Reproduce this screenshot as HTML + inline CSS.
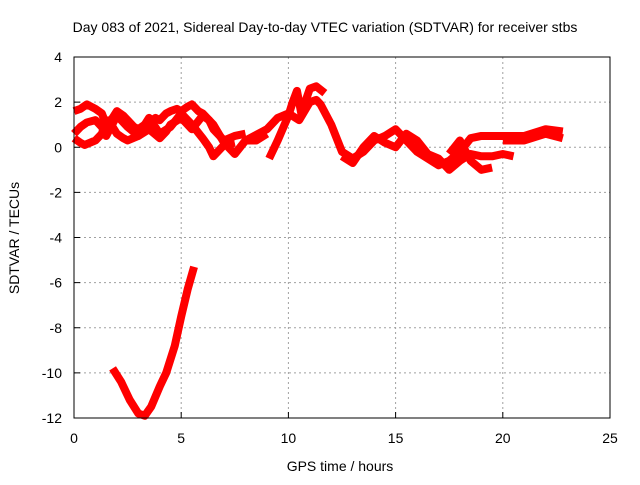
<!DOCTYPE html>
<html><head><meta charset="utf-8"><style>
body{margin:0;background:#fff}
svg text{font-family:"Liberation Sans",sans-serif;font-size:14px;fill:#000}
</style></head><body>
<svg id="c" width="640" height="480" xmlns="http://www.w3.org/2000/svg">
<text x="325" y="32" text-anchor="middle">Day 083 of 2021, Sidereal Day-to-day VTEC variation (SDTVAR) for receiver stbs</text>
<text x="340" y="471" text-anchor="middle">GPS time / hours</text>
<text transform="translate(19,238) rotate(-90)" text-anchor="middle">SDTVAR / TECUs</text>
<g id="grid"></g><g id="ticks"></g><g id="series"></g>
<rect x="74" y="57" width="536" height="361" fill="none" stroke="#000"/>
</svg>
<script>
const xTicks=[0,5,10,15,20,25];
const yTicks=[4,2,0,-2,-4,-6,-8,-10,-12];
const s1h=[0,0.3,0.6,1,1.3,1.5,1.8,2,2.3,2.5,2.8,3,3.3,3.5,3.8,4,4.3,4.5,4.8,5,5.3,5.5,5.8,6,6.3,6.5,7,7.5,8];
const s1v=[1.6,1.7,1.9,1.7,1.5,1.0,1.3,1.6,1.4,1.2,0.9,0.8,1.0,1.1,1.3,1.2,1.5,1.6,1.7,1.6,1.8,1.9,1.6,1.5,1.2,0.8,0.3,0.5,0.6];
const s2h=[0,0.3,0.5,1,1.3,1.5,1.8,2,2.3,2.5,3,3.5,4,4.3,4.5,5,5.5,6,6.3,6.5,7,7.5,8,8.5,9];
const s2v=[0.4,0.2,0.1,0.3,0.6,1.2,0.9,0.6,0.4,0.3,0.5,0.8,0.4,0.7,1.0,1.3,0.8,1.4,1.2,1.0,0.2,-0.3,0.3,0.3,0.6];
const s3h=[0,0.3,0.6,1,1.3,1.5,2,2.5,3,3.3,3.5,4,4.5,5,5.5,6,6.3,6.5,7,7.5];
const s3v=[0.6,0.9,1.1,1.2,0.9,0.5,1.4,0.9,0.5,1.0,1.3,0.6,0.9,1.5,1.0,0.4,0.0,-0.4,0.1,0.2];
const s4h=[9.1,9.5,10,10.2,10.4,10.6,11,11.3,11.7];
const s4v=[-0.5,0.3,1.4,2.0,2.5,1.5,2.6,2.7,2.4];
const s5h=[8,9,9.5,10,10.5,11,11.3,11.5,12,12.5,13,13.5,14,14.5,15,15.5,16,16.5,17,17.5,18,18.5,19,20,21,22,22.8];
const s5v=[0.3,0.8,1.3,1.5,1.2,2.0,2.1,1.9,1.0,-0.2,-0.5,-0.2,0.3,0.5,0.8,0.3,-0.2,-0.5,-0.8,-0.6,-0.2,0.4,0.5,0.5,0.5,0.8,0.7];
const s6h=[12.5,13,13.5,14,14.5,15,15.5,16,16.5,17,17.5,18,18.5,19,19.5,20,20.5];
const s6v=[-0.4,-0.7,0,0.5,0.2,0,0.6,0.3,-0.3,-0.5,-1.0,-0.6,-0.3,-0.4,-0.4,-0.3,-0.4];
const s7h=[17.5,18,18.5,19,19.5];
const s7v=[-0.3,0.3,-0.6,-1.0,-0.9];
const s8h=[20,21,22,22.8];
const s8v=[0.3,0.3,0.6,0.4];
const s9h=[1.8,2.2,2.6,3,3.3,3.6,4,4.3,4.7,5,5.3,5.6];
const s9v=[-9.8,-10.4,-11.2,-11.8,-11.9,-11.5,-10.6,-10,-8.8,-7.5,-6.3,-5.3];
const X=h=>74+h/25*536, Y=v=>57+(4-v)/16*361;
const NS="http://www.w3.org/2000/svg";
const grid=document.getElementById('grid'),ticks=document.getElementById('ticks'),ser=document.getElementById('series');
function mk(tag,attrs,parent){const e=document.createElementNS(NS,tag);for(const k in attrs)e.setAttribute(k,attrs[k]);parent.appendChild(e);return e;}
xTicks.forEach(t=>{
  if(t>0&&t<25){const g=mk('line',{x1:X(t),x2:X(t),y1:57,y2:418,stroke:'#a0a0a0','stroke-dasharray':'2,3'},grid);
  
  }
  const tk=mk('line',{x1:X(t),x2:X(t),y1:418,y2:412,stroke:'#000'},ticks);
  
  
  const tx=mk('text',{x:X(t),y:443,'text-anchor':'middle'},ticks);tx.textContent=t;
  
  
});
yTicks.forEach(t=>{
  if(t<4&&t>-12){const g=mk('line',{x1:74,x2:610,y1:Y(t),y2:Y(t),stroke:'#a0a0a0','stroke-dasharray':'2,3'},grid);
  
  }
  const tk=mk('line',{x1:74,x2:80,y1:Y(t),y2:Y(t),stroke:'#000'},ticks);
  
  
  const tx=mk('text',{x:62,y:Y(t)+5,'text-anchor':'end'},ticks);tx.textContent=t;
  
  
});
[[s1h,s1v],[s2h,s2v],[s3h,s3v],[s4h,s4v],[s5h,s5v],[s6h,s6v],[s7h,s7v],[s8h,s8v],[s9h,s9v]].forEach(([h,v],i)=>{
  const p=mk('polyline',{points:h.map((x,j)=>X(x)+','+Y(v[j])).join(' '),fill:'none',stroke:'#f00','stroke-width':8,'stroke-linejoin':'round'},ser);
  
  
});
</script>
</body></html>
